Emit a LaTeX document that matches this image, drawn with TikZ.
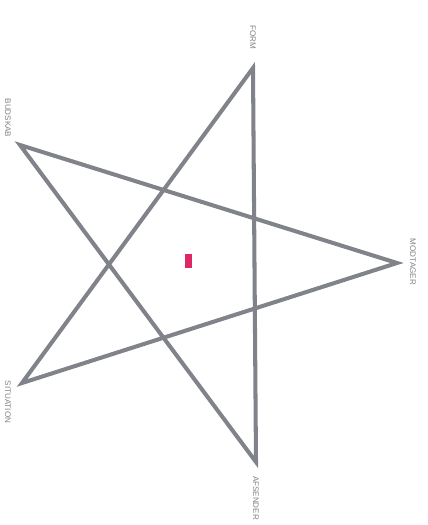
\documentclass[tikz,border=0pt]{standalone}
\usepackage{fontspec}
\setmainfont{Liberation Sans}
\usetikzlibrary{positioning}
\definecolor{stargray}{RGB}{128,131,137}
\definecolor{markred}{RGB}{222,40,100}

\begin{document}
\begin{tikzpicture}[
x=0.02cm,y=-0.02cm,
starline/.style={draw=stargray,line width=2.3pt,line join=miter},
tag/.style={text=stargray,font=\fontsize{4.6}{5}\selectfont,rotate=-90,inner sep=0pt}
]
\useasboundingbox (0,0) rectangle (427,525);

\coordinate (form) at (253,68);
\coordinate (budskab) at (20,145);
\coordinate (modtager) at (397,263);
\coordinate (situation) at (22,383);
\coordinate (afsender) at (256,462);

\draw[starline] (form)--(afsender)--(budskab)--(modtager)--(situation)--cycle;

\node[tag] (formlbl) at (253,37) {FORM};
\node[tag] (budskablbl) at (8,118) {BUDSKAB};
\node[tag] (modtagerlbl) at (413,262) {MODTAGER};
\node[tag] (situationlbl) at (8,402) {SITUATION};
\node[tag] (afsenderlbl) at (256,498) {AFSENDER};

\fill[markred] (185,254) rectangle (192,268);

\end{tikzpicture}
\end{document}
